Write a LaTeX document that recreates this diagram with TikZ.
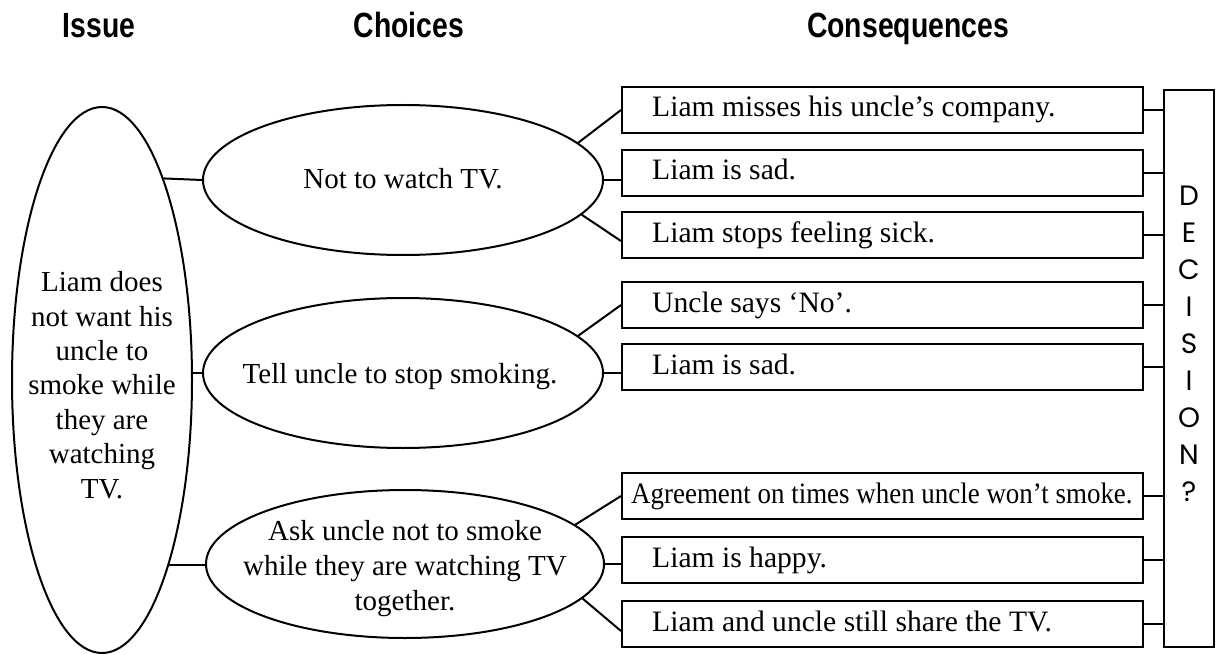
\documentclass[tikz,border=0pt]{standalone}
\usepackage{fontspec}
\usepackage{graphicx}
\setmainfont{Liberation Serif}
\newfontfamily\hdfont{Liberation Sans}
\newfontfamily\decfont{Poppins}
\usetikzlibrary{shapes.geometric}
\newcommand{\bodyfs}{\fontsize{29pt}{34.4pt}\selectfont}
\newcommand{\boxfs}{\fontsize{29.6pt}{34.4pt}\selectfont}
\newcommand{\hdtxt}[1]{\scalebox{0.81}[1]{\hdfont\bfseries\fontsize{35pt}{35pt}\selectfont #1}}
\tikzset{
  ln/.style={line width=2pt},
  ell/.style={draw, ellipse, line width=2pt, inner sep=0pt},
  cbox/.style={draw, rectangle, line width=2pt, minimum height=46pt, minimum width=521pt, inner sep=0pt},
  btxt/.style={anchor=west, inner sep=0pt, text height=20pt, text depth=6pt, font=\boxfs},
  txt/.style={align=center, font=\bodyfs, inner sep=0pt},
  hd/.style={anchor=base, inner sep=0pt}
}
\begin{document}
\begin{tikzpicture}[x=1pt, y=-1pt]
\useasboundingbox (0,0) rectangle (1217,655);
% headers
\node[hd] (h1) at (99,38) {\hdtxt{Issue}};
\node[hd] (h2) at (409,38) {\hdtxt{Choices}};
\node[hd] (h3) at (908,38) {\hdtxt{Consequences}};
% issue
\node[ell, minimum width=180pt, minimum height=546pt] (iss) at (102,380) {};
\node[txt] (isst) at (102,385) {Liam does\\not want his\\uncle to\\smoke while\\they are\\watching\\TV.};
% choices
\node[ell, minimum width=400pt, minimum height=150pt] (e1) at (403,180) {};
\node[txt] (e1t) at (403,179) {Not to watch TV.};
\node[ell, minimum width=400pt, minimum height=150pt] (e2) at (403,373) {};
\node[txt] (e2t) at (400,377) {Tell uncle to stop smoking.};
\node[ell, minimum width=398pt, minimum height=148pt] (e3) at (405,564) {};
\node[txt, font=\fontsize{29pt}{35pt}\selectfont] (e3t) at (405,569) {Ask uncle not to smoke\\while they are watching TV\\together.};
% consequences
\node[cbox] (b1) at (882.5,110) {};
\node[cbox] (b2) at (882.5,173) {};
\node[cbox] (b3) at (882.5,235) {};
\node[cbox] (b4) at (882.5,305) {};
\node[cbox] (b5) at (882.5,367) {};
\node[cbox] (b6) at (882.5,496) {};
\node[cbox] (b7) at (882.5,560) {};
\node[cbox] (b8) at (882.5,624) {};
\node[btxt] (b1t) at ([xshift=31pt]b1.west) {Liam misses his uncle’s company.};
\node[btxt] (b2t) at ([xshift=31pt]b2.west) {Liam is sad.};
\node[btxt] (b3t) at ([xshift=31pt]b3.west) {Liam stops feeling sick.};
\node[btxt] (b4t) at ([xshift=31pt]b4.west) {Uncle says ‘No’.};
\node[btxt] (b5t) at ([xshift=31pt]b5.west) {Liam is sad.};
\node[btxt] (b6t) at ([xshift=10pt]b6.west) {\scalebox{0.91}[1]{Agreement on times when uncle won’t smoke.}};
\node[btxt] (b7t) at ([xshift=31pt]b7.west) {Liam is happy.};
\node[btxt] (b8t) at ([xshift=31pt]b8.west) {Liam and uncle still share the TV.};
% decision
\node[draw, rectangle, line width=2pt, minimum width=50pt, minimum height=557pt, inner sep=0pt] (dec) at (1189,368.5) {};
\node[align=center, inner sep=0pt, font=\decfont\fontsize{28pt}{37pt}\selectfont] (dect) at (1189,344) {D\\E\\C\\I\\S\\I\\O\\N\\?};
% connectors issue -> choices
\draw[ln] (iss.73) -- (e1.west);
\draw[ln] (e2.west -| iss.east) -- (e2.west);
\draw[ln] (iss.-70) -- (iss.-70 -| e3.west);
% choices -> consequences
\draw[ln] (e1.12) -- (b1.west);
\draw[ln] (e1.east) -- (e1.east -| b2.west);
\draw[ln] (e1.-11) -- ([yshift=-6pt]b3.west);
\draw[ln] (e2.12) -- (b4.west);
\draw[ln] (e2.east) -- (e2.east -| b5.west);
\draw[ln] (e3.13) -- (b6.west);
\draw[ln] (e3.east) -- (e3.east -| b7.west);
\draw[ln] (e3.-11) -- ([yshift=-7pt]b8.west);
% consequences -> decision
\foreach \b in {b1,b2,b3,b4,b5,b6,b7,b8}
  \draw[ln] (\b.east) -- (\b.east -| dec.west);
\end{tikzpicture}
\end{document}
